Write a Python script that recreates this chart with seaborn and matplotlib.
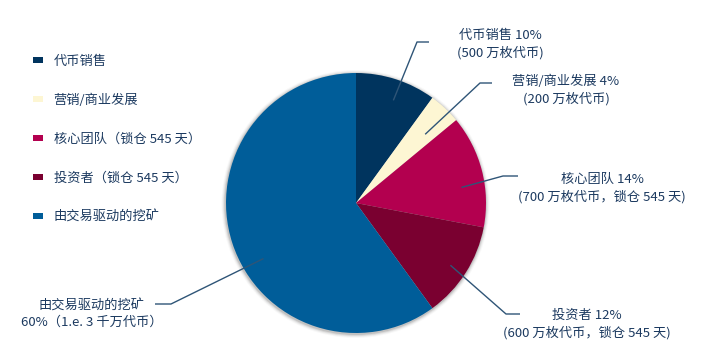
import numpy as np
import matplotlib
matplotlib.use("Agg")
import matplotlib.pyplot as plt
from matplotlib.patches import Circle
import seaborn as sns

# ---- data ----
categories = ["代币销售", "营销/商业发展", "核心团队（锁仓 545 天）", "投资者（锁仓 545 天）", "由交易驱动的挖矿"]
shares = [10, 4, 14, 12, 60]
slice_labels = [
    "代币销售 10%\n(500 万枚代币)",
    "营销/商业发展 4%\n(200 万枚代币)",
    "核心团队 14%\n(700 万枚代币，锁仓 545 天)",
    "投资者 12%\n(600 万枚代币，锁仓 545 天)",
    "由交易驱动的挖矿\n60%（1.e. 3 千万代币）",
]
colors = ["#00345e", "#fdf6d3", "#b3004f", "#7a0030", "#005d99"]

sns.set_theme(style="white")
plt.rcParams["font.family"] = ["Noto Sans CJK SC", "DejaVu Sans"]

W, H = 714, 361
fig = plt.figure(figsize=(W / 100, H / 100), dpi=100)
ax = fig.add_axes([0, 0, 1, 1])

def fy(y):
    return H - y

cx, cy, R = 356, fy(203), 130
txt_color = "#1c3a60"
line_color = "#2f5577"
fs = 9.5

# soft shadow
for i, a in zip(range(1, 5), [0.18, 0.12, 0.07, 0.04]):
    ax.add_patch(Circle((cx - 0.5, cy - 1), R + i, color="#555555", alpha=a, lw=0, zorder=1))

wedges, _ = ax.pie(shares, colors=colors, startangle=90, counterclock=False,
                   center=(cx, cy), radius=R, frame=True,
                   wedgeprops=dict(linewidth=0, zorder=2))
ax.set_xlim(0, W)
ax.set_ylim(0, H)
ax.set_axis_off()

# leader lines / labels layout
anchor_r = [0.84, 0.75, 0.82, 0.87, 0.83]
anchor_nudge = [2, 2, 6, 1, -13]
elbows = [((417, 42), (429, 42)), ((480, 83), (492, 83)), ((503, 176), (518, 176)),
          ((506, 314), (520, 314)), ((171, 304), (155, 304))]
text_pos = [(500, 44), (566, 90), (602, 188), (587, 324), (92, 314)]

cum = np.cumsum([0] + shares)
total = cum[-1]
for i in range(len(shares)):
    mid = (cum[i] + cum[i + 1]) / 2 / total * 360 + anchor_nudge[i]
    th = np.deg2rad(mid)
    ax_ = cx + anchor_r[i] * R * np.sin(th)
    ay_ = cy + anchor_r[i] * R * np.cos(th)
    (ex, ey), (hx, hy) = elbows[i]
    ax.plot([ax_, ex, hx], [ay_, fy(ey), fy(hy)], color=line_color, lw=1.0, zorder=3,
            solid_capstyle="butt")
    tx, ty = text_pos[i]
    ax.text(tx, fy(ty), slice_labels[i], ha="center", va="center", fontsize=fs,
            color=txt_color, linespacing=1.35, zorder=4)

leg = ax.legend(wedges, categories, loc="upper left",
                bbox_to_anchor=(33 / W, 1 - 55 / H), bbox_transform=fig.transFigure,
                frameon=False, fontsize=fs, handlelength=0.72, handleheight=0.33,
                handletextpad=0.85, labelspacing=1.96, borderpad=0, borderaxespad=0)
for t in leg.get_texts():
    t.set_color(txt_color)

fig.savefig("out.png", dpi=100)
